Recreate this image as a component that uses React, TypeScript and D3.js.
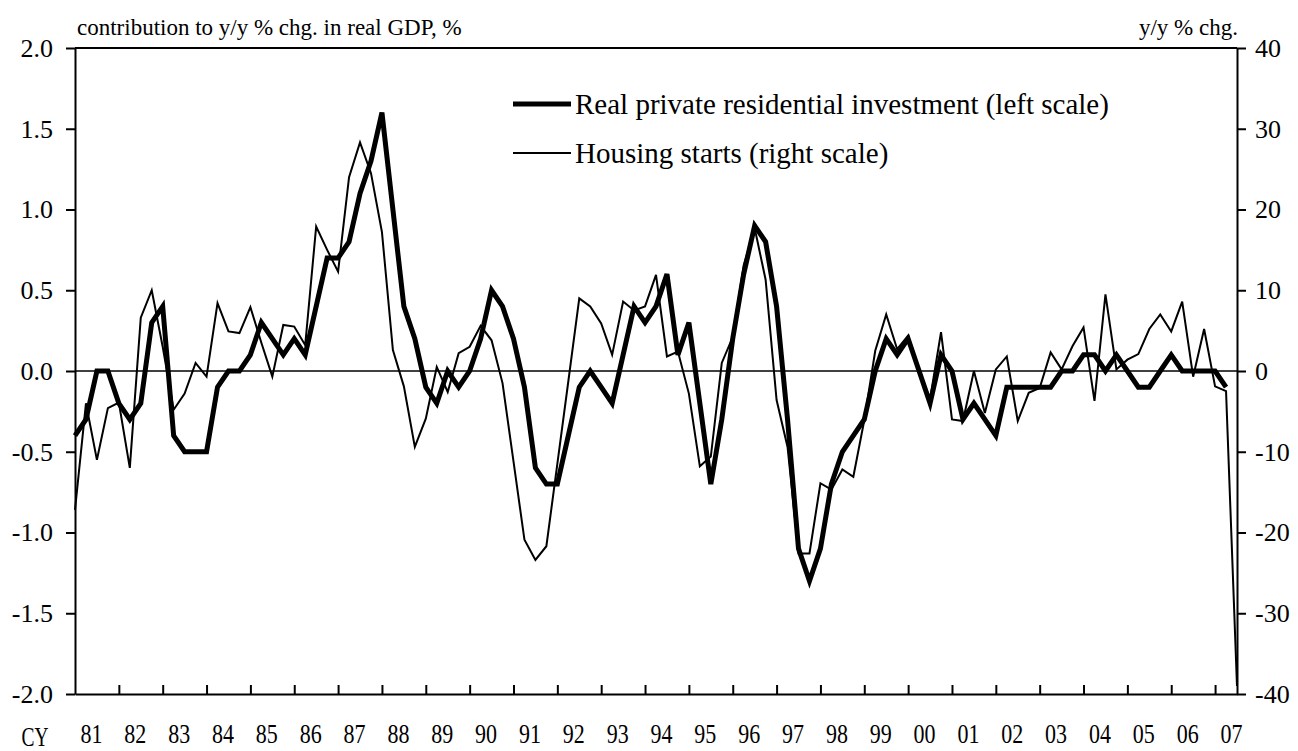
import React, { useEffect, useRef } from 'react';
import * as d3 from 'd3';

// quarterly, 1981Q1 .. 2007Q2 (left scale, % points)
const investment = [
  -0.4, -0.3, 0.0, 0.0,
  -0.2, -0.3, -0.2, 0.3,
  0.4, -0.4, -0.5, -0.5,
  -0.5, -0.1, 0.0, 0.0,
  0.1, 0.3, 0.2, 0.1,
  0.2, 0.1, 0.4, 0.7,
  0.7, 0.8, 1.1, 1.3,
  1.6, 1.0, 0.4, 0.2,
  -0.1, -0.2, 0.0, -0.1,
  0.0, 0.2, 0.5, 0.4,
  0.2, -0.1, -0.6, -0.7,
  -0.7, -0.4, -0.1, 0.0,
  -0.1, -0.2, 0.1, 0.4,
  0.3, 0.4, 0.6, 0.1,
  0.3, -0.2, -0.7, -0.3,
  0.2, 0.6, 0.9, 0.8,
  0.4, -0.3, -1.1, -1.3,
  -1.1, -0.7, -0.5, -0.4,
  -0.3, 0.0, 0.2, 0.1,
  0.2, 0.0, -0.2, 0.1,
  0.0, -0.3, -0.2, -0.3,
  -0.4, -0.1, -0.1, -0.1,
  -0.1, -0.1, 0.0, 0.0,
  0.1, 0.1, 0.0, 0.1,
  0.0, -0.1, -0.1, 0.0,
  0.1, 0.0, 0.0, 0.0,
  0.0, -0.1,
];

// quarterly, 1981Q1 .. 2007Q3 (right scale, y/y %)
const housingStarts = [
  -17.2, -4.0, -11.0, -4.6,
  -3.9, -12.0, 6.6, 10.0,
  3.0, -4.8, -2.8, 1.0,
  -0.7, 8.4, 4.9, 4.7,
  7.9, 3.5, -0.7, 5.7,
  5.5, 3.2, 17.9, 15.0,
  12.3, 24.0, 28.3, 24.5,
  17.2, 2.6, -1.9, -9.4,
  -5.9, 0.5, -2.6, 2.2,
  3.0, 5.6, 3.8, -1.5,
  -11.2, -20.9, -23.4, -21.7,
  -11.5, -1.3, 9.0, 8.0,
  5.9, 2.0, 8.6, 7.5,
  8.0, 11.9, 1.8, 2.4,
  -2.8, -11.8, -10.6, 1.0,
  4.2, 13.1, 17.7, 11.3,
  -3.6, -9.4, -22.6, -22.6,
  -13.9, -14.7, -12.2, -13.1,
  -6.1, 2.5, 7.0, 2.7,
  4.4, 0.2, -3.5, 4.8,
  -6.0, -6.2, 0.0, -5.2,
  0.2, 1.8, -6.2, -2.7,
  -2.1, 2.3, 0.2, 3.1,
  5.4, -3.7, 9.5, 0.2,
  1.4, 2.1, 5.2, 7.0,
  4.9, 8.6, -0.7, 5.2,
  -1.9, -2.5, -39.0,
];

const years = ['81', '82', '83', '84', '85', '86', '87', '88', '89', '90', '91', '92', '93',
  '94', '95', '96', '97', '98', '99', '00', '01', '02', '03', '04', '05', '06', '07'];
const leftTicks = [-2.0, -1.5, -1.0, -0.5, 0.0, 0.5, 1.0, 1.5, 2.0];
const rightTicks = [-40, -30, -20, -10, 0, 10, 20, 30, 40];

const FONT = '"Liberation Serif", "Times New Roman", serif';

const App = () => {
  const svgRef = useRef(null);

  useEffect(() => {
    if (!svgRef.current) return;
    const width = 1298;
    const height = 751;
    const margin = { top: 48, right: 61, bottom: 57, left: 75 };
    const w = width - margin.left - margin.right;
    const h = height - margin.top - margin.bottom;

    const svg = d3.select(svgRef.current);
    svg.selectAll('*').remove();
    svg.append('rect').attr('width', width).attr('height', height).attr('fill', '#fff');

    const g = svg.append('g').attr('transform', `translate(${margin.left},${margin.top})`);

    const x = d3.scaleLinear().domain([0, 106]).range([0, w]);
    const yL = d3.scaleLinear().domain([-2, 2]).range([h, 0]);
    const yR = d3.scaleLinear().domain([-40, 40]).range([h, 0]);

    // zero line
    g.append('line')
      .attr('x1', 0).attr('x2', w)
      .attr('y1', yL(0)).attr('y2', yL(0))
      .attr('stroke', '#000').attr('stroke-width', 1.6);

    // top frame
    g.append('line')
      .attr('x1', 0).attr('x2', w)
      .attr('y1', 0).attr('y2', 0)
      .attr('stroke', '#000').attr('stroke-width', 2);

    const styleAxis = (sel) => {
      sel.selectAll('.domain').attr('stroke', '#000').attr('stroke-width', 2);
      sel.selectAll('line').attr('stroke', '#000').attr('stroke-width', 2);
      sel.selectAll('text')
        .attr('fill', '#000')
        .attr('font-family', FONT)
        .attr('font-size', 26);
    };

    g.append('g')
      .call(d3.axisLeft(yL).tickValues(leftTicks).tickSizeInner(9).tickSizeOuter(0)
        .tickPadding(13).tickFormat(d => (d as number).toFixed(1)))
      .call(styleAxis);

    g.append('g')
      .attr('transform', `translate(${w},0)`)
      .call(d3.axisRight(yR).tickValues(rightTicks).tickSizeInner(9).tickSizeOuter(0)
        .tickPadding(9).tickFormat(d => String(d)))
      .call(styleAxis);

    const yearTicks = d3.range(1, years.length).map(k => k * 4);
    g.append('g')
      .attr('transform', `translate(0,${h})`)
      .call(d3.axisBottom(x).tickValues(yearTicks).tickSizeInner(-9).tickSizeOuter(0)
        .tickFormat(() => ''))
      .call(styleAxis);

    // year labels
    years.forEach((yr, k) => {
      g.append('text')
        .attr('x', x(k * 4 + 1.5))
        .attr('y', h + 49)
        .attr('text-anchor', 'middle')
        .attr('font-family', FONT)
        .attr('font-size', 27)
        .attr('textLength', 22)
        .attr('lengthAdjust', 'spacingAndGlyphs')
        .text(yr);
    });
    svg.append('text')
      .attr('x', 35).attr('y', 746)
      .attr('text-anchor', 'middle')
      .attr('font-family', FONT)
      .attr('font-size', 27)
      .attr('textLength', 27)
      .attr('lengthAdjust', 'spacingAndGlyphs')
      .text('CY');

    // series
    const lineL = d3.line<number>().x((d, i) => x(i)).y(d => yL(d));
    const lineR = d3.line<number>().x((d, i) => x(i)).y(d => yR(d));

    g.append('path')
      .datum(housingStarts)
      .attr('fill', 'none')
      .attr('stroke', '#000')
      .attr('stroke-width', 2)
      .attr('d', lineR);

    g.append('path')
      .datum(investment)
      .attr('fill', 'none')
      .attr('stroke', '#000')
      .attr('stroke-width', 5)
      .attr('d', lineL);

    // titles
    svg.append('text')
      .attr('x', 77).attr('y', 35)
      .attr('font-family', FONT).attr('font-size', 23)
      .text('contribution to y/y % chg. in real GDP, %');
    svg.append('text')
      .attr('x', 1238).attr('y', 35)
      .attr('text-anchor', 'end')
      .attr('font-family', FONT).attr('font-size', 23)
      .text('y/y % chg.');

    // legend
    const legend = [
      { label: 'Real private residential investment (left scale)', sw: 5, y: 104 },
      { label: 'Housing starts (right scale)', sw: 2, y: 153 },
    ];
    legend.forEach(item => {
      svg.append('line')
        .attr('x1', 513).attr('x2', 571)
        .attr('y1', item.y).attr('y2', item.y)
        .attr('stroke', '#000').attr('stroke-width', item.sw);
      svg.append('text')
        .attr('x', 575).attr('y', item.y)
        .attr('dy', '0.35em')
        .attr('font-family', FONT).attr('font-size', 29)
        .text(item.label);
    });
  }, []);

  return (
    <div style={{ position: 'absolute', left: 0, top: 0 }}>
      <svg ref={svgRef} width={1298} height={751} style={{ display: 'block' }} />
    </div>
  );
};

export default App;
